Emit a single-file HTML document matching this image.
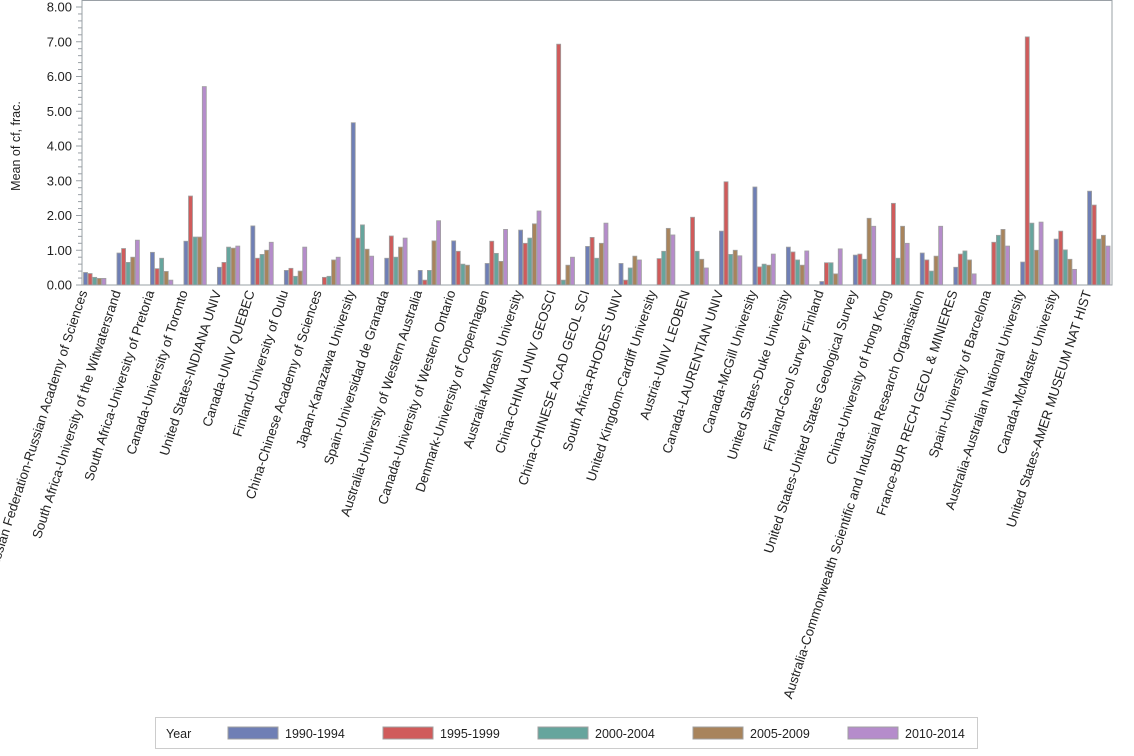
<!DOCTYPE html>
<html><head><meta charset="utf-8"><style>
body{margin:0;background:#fff}
svg{display:block;font-family:"Liberation Sans",Arial,sans-serif}
</style></head><body>
<svg id="s" width="1134" height="756" xmlns="http://www.w3.org/2000/svg"></svg>
<script>
const names=["Russian Federation-Russian Academy of Sciences","South Africa-University of the Witwatersrand","South Africa-University of Pretoria","Canada-University of Toronto","United States-INDIANA UNIV","Canada-UNIV QUEBEC","Finland-University of Oulu","China-Chinese Academy of Sciences","Japan-Kanazawa University","Spain-Universidad de Granada","Australia-University of Western Australia","Canada-University of Western Ontario","Denmark-University of Copenhagen","Australia-Monash University","China-CHINA UNIV GEOSCI","China-CHINESE ACAD GEOL SCI","South Africa-RHODES UNIV","United Kingdom-Cardiff University","Austria-UNIV LEOBEN","Canada-LAURENTIAN UNIV","Canada-McGill University","United States-Duke University","Finland-Geol Survey Finland","United States-United States Geological Survey","China-University of Hong Kong","Australia-Commonwealth Scientific and Industrial Research Organisation","France-BUR RECH GEOL & MINIERES","Spain-University of Barcelona","Australia-Australian National University","Canada-McMaster University","United States-AMER MUSEUM NAT HIST"];
const v=[[.36,.33,.22,.19,.19],[.92,1.05,.65,.80,1.29],[.94,.47,.77,.39,.14],[1.26,2.56,1.38,1.38,5.71],[.51,.65,1.09,1.06,1.12],[1.70,.77,.88,1.00,1.23],[.42,.48,.25,.40,1.09],[0,.22,.25,.72,.80],[4.67,1.35,1.73,1.03,.83],[.77,1.41,.80,1.09,1.35],[.42,.14,.42,1.27,1.85],[1.27,.97,.60,.57,0],[.62,1.26,.91,.68,1.60],[1.58,1.20,1.35,1.76,2.13],[0,6.93,.14,.57,.80],[1.11,1.37,.77,1.20,1.78],[.62,.14,.49,.83,.72],[0,.76,.97,1.63,1.44],[0,1.95,.97,.74,.49],[1.55,2.97,.88,1.00,.84],[2.82,.52,.60,.57,.89],[1.09,.95,.72,.57,.98],[.10,.64,.64,.32,1.04],[.86,.89,.74,1.92,1.69],[0,2.35,.77,1.69,1.20],[.92,.72,.40,.83,1.69],[.51,.89,.98,.72,.32],[0,1.23,1.43,1.60,1.12],[.66,7.14,1.78,1.00,1.81],[1.32,1.55,1.01,.74,.45],[2.70,2.30,1.32,1.43,1.12]];
const col=["#6f7fb5","#d05b5b","#66a59d","#a8845c","#b58ccb"];
const y0=285,sc=34.75;
let h='<rect x="82" y="0.5" width="1030" height="284.5" fill="none" stroke="#9aa0a6"/>';
for(let i=0;i<=40;i++){const y=y0-i*sc/5;h+=`<line x1="${i%5?78:76}" x2="82" y1="${y}" y2="${y}" stroke="#9aa0a6"/>`;}
for(let i=0;i<=8;i++){h+=`<text x="72" y="${y0-i*sc+4.5}" font-size="13" text-anchor="end" fill="#222">${i.toFixed(2)}</text>`;}
h+=`<text transform="translate(20,146) rotate(-90)" font-size="12.5" text-anchor="middle" fill="#222">Mean of cf, frac.</text>`;
v.forEach((g,i)=>{const x0=83.5+33.47*i;g.forEach((d,j)=>{if(d>0){const hh=d*sc;h+=`<rect x="${x0+j*4.6}" y="${y0-hh}" width="4" height="${hh}" fill="${col[j]}" stroke="#a0a0a0" stroke-width="0.8"/>`;}});
const cx=x0+4;h+=`<text transform="translate(${cx},292) rotate(-72)" font-size="13.3" text-anchor="end" fill="#222">${names[i].replace(/&/g,'&amp;')}</text>`;});
h+='<line x1="82" x2="1112" y1="285" y2="285" stroke="#9aa0a6"/>';
h+='<rect x="155.5" y="717.5" width="822" height="31" fill="#fff" stroke="#ccc"/>';
h+='<text x="166" y="738" font-size="12.5" fill="#222">Year</text>';
const lab=["1990-1994","1995-1999","2000-2004","2005-2009","2010-2014"];
lab.forEach((l,j)=>{const x=228+j*155;h+=`<rect x="${x}" y="727" width="50" height="12" fill="${col[j]}" stroke="#a0a0a0"/><text x="${x+57}" y="738" font-size="12.5" fill="#222">${l}</text>`;});
document.getElementById('s').innerHTML=h;
</script>
</body></html>
